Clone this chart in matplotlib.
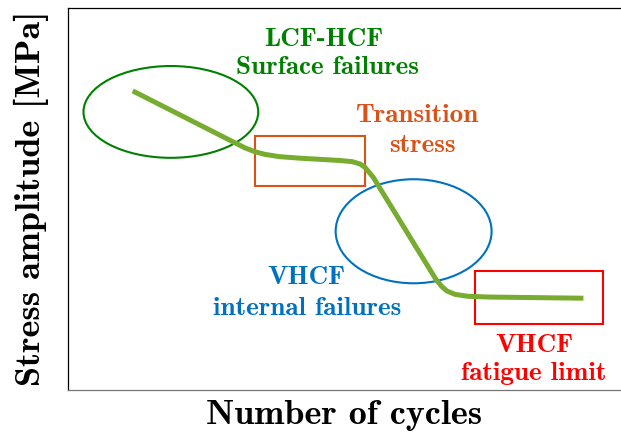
import os
import matplotlib
matplotlib.use("Agg")
import matplotlib.pyplot as plt
from matplotlib.patches import Ellipse, Rectangle
from matplotlib.font_manager import FontProperties

# Computer Modern bold ships with matplotlib
CMB = os.path.join(matplotlib.get_data_path(), "fonts", "ttf", "cmb10.ttf")

# S-N curve (axis units 0..100)
curve_x = [11.7, 32.0, 33.8, 35.6, 38.3, 42.0, 45.6, 49.2, 51.4, 52.8, 53.7, 54.4,
           55.2, 66.5, 67.5, 68.5, 70.0, 72.3, 76.3, 93.2]
curve_y = [78.2, 63.3, 62.3, 61.6, 61.0, 60.6, 60.3, 60.0, 59.7, 59.1, 58.2, 57.0,
           55.6, 29.0, 27.2, 25.9, 25.0, 24.5, 24.3, 24.0]

# regions: ellipses (cx, cy, w, h) and boxes (x0, y0, w, h)
ellipses = [(18.6, 72.7, 31.6, 24.0, "#008000"),
            (62.5, 41.5, 28.2, 27.2, "#0072bd")]
boxes = [(33.8, 53.3, 19.9, 13.1, "#d95319"),
         (73.6, 17.3, 23.2, 13.9, "#ff0000")]

# annotation text (x, baseline y)
labels = ["LCF-HCF", "Surface failures", "Transition", "stress",
          "VHCF", "internal failures", "VHCF", "fatigue limit"]
label_x = [46.2, 47.0, 63.1, 64.0, 43.2, 43.3, 84.4, 84.2]
label_y = [90.0, 82.5, 70.0, 62.3, 27.6, 19.6, 10.0, 2.6]
label_c = ["#008000", "#008000", "#d95319", "#d95319",
           "#0072bd", "#0072bd", "#ff0000", "#ff0000"]

fig = plt.figure(figsize=(6.21, 4.37), dpi=100)
ax = fig.add_axes([68 / 621, 1 - 390 / 437, 1 - 68 / 621, (390 - 7.5) / 437])
ax.set_xlim(0, 100)
ax.set_ylim(0, 100)

ax.plot(curve_x, curve_y, color="#77ac30", lw=3.6, solid_capstyle="butt", zorder=3)

for cx, cy, w, h, c in ellipses:
    ax.add_patch(Ellipse((cx, cy), w, h, fill=False, ec=c, lw=1.5, zorder=2))
for x0, y0, w, h, c in boxes:
    ax.add_patch(Rectangle((x0, y0), w, h, fill=False, ec=c, lw=1.5, zorder=2))

fp_small = FontProperties(fname=CMB, size=19.5)
fp_big = FontProperties(fname=CMB, size=26)

for s, x, y, c in zip(labels, label_x, label_y, label_c):
    ax.text(x, y, s, color=c, ha="center", va="baseline", fontproperties=fp_small)

ax.set_xlabel("Number of cycles", fontproperties=fp_big, labelpad=7)
ax.set_ylabel("Stress amplitude [MPa]", fontproperties=fp_big, labelpad=14)

ax.set_xticks([])
ax.set_yticks([])
ax.spines["right"].set_visible(False)
ax.spines["bottom"].set_color("#777777")
for side in ["top", "left", "bottom"]:
    ax.spines[side].set_linewidth(0.9)

fig.savefig("out.png", dpi=100)
